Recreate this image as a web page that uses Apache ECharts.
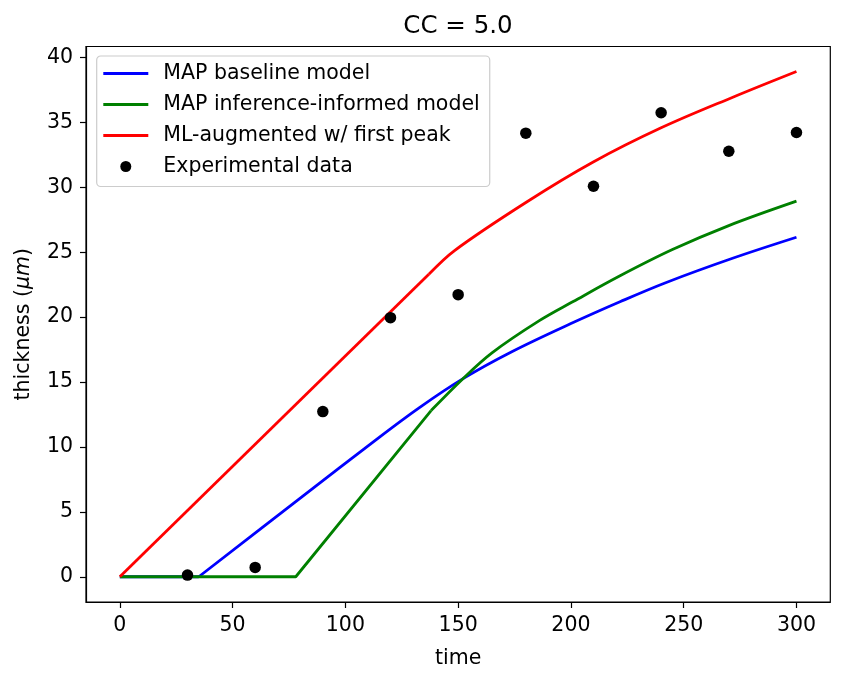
<!DOCTYPE html>
<html>
<head>
<meta charset="utf-8">
<script src="https://cdn.jsdelivr.net/npm/echarts@6/dist/echarts.min.js"></script>
<style>
html,body{margin:0;padding:0;background:#fff;}
#chart{width:845px;height:679px;}
</style>
</head>
<body>
<div id="chart"></div>
<script>
// ---- data ----
// MAP baseline model: flat part, then curved part
const baselineFlatT = [0, 35];
const baselineFlatV = [0, 0];
const baselineCurveT = [35, 80, 115, 133, 152, 174, 200, 222, 242, 272, 300];
const baselineCurveV = [0, 6.05, 10.74, 13.05, 15.24, 17.35, 19.5, 21.2, 22.65, 24.55, 26.15];

// MAP inference-informed model: flat, straight ramp, then curved part
const informedLinT = [0, 78, 138];
const informedLinV = [0, 0, 12.8];
const informedCurveT = [138, 152, 165, 186, 201, 222, 245, 270, 300];
const informedCurveV = [12.8, 15.24, 17.25, 19.73, 21.2, 23.2, 25.2, 27.05, 28.93];

// ML-augmented w/ first peak: straight ramp, then curved part
const mlLinT = [0, 137];
const mlLinV = [0, 23.3];
const mlCurveT = [137, 148.4, 180.2, 209.7, 240, 271.8, 300];
const mlCurveV = [23.3, 25.13, 28.85, 31.93, 34.58, 36.94, 38.92];

const expT = [30, 60, 90, 120, 150, 180, 210, 240, 270, 300];
const expV = [0.13, 0.72, 12.72, 19.96, 21.73, 34.17, 30.08, 35.74, 32.78, 34.22];

const xTicks = [0, 50, 100, 150, 200, 250, 300];
const yTicks = [0, 5, 10, 15, 20, 25, 30, 35, 40];

const names = ['MAP baseline model', 'MAP inference-informed model', 'ML-augmented w/ first peak', 'Experimental data'];
const colors = ['#0000ff', '#008000', '#ff0000', '#000000'];

function pairs(t, v) { return t.map((x, i) => [x, v[i]]); }

const FONT = 'DejaVu Sans';
const FS = 20.5;
const chart = echarts.init(document.getElementById('chart'), null, {renderer: 'canvas'});

const axisCommon = {
  axisLine: {show: true, onZero: false, lineStyle: {color: '#000', width: 1.2}},
  axisTick: {show: true, inside: false, length: 6, lineStyle: {color: '#000', width: 1.2}},
  splitLine: {show: false},
  axisLabel: {color: '#000', fontFamily: FONT, fontSize: FS}
};

const LW = 2.8;
const lineIcon = 'path://M0,0 H45 V2.8 H0 Z';

function lineSeries(idx, t, v, smooth) {
  return {
    name: names[idx], type: 'line', data: pairs(t, v), symbol: 'none', showSymbol: false,
    smooth: smooth ? 0.35 : false,
    lineStyle: {color: colors[idx], width: LW}, itemStyle: {color: colors[idx]},
    z: 2 + idx
  };
}

chart.setOption({
  animation: false,
  backgroundColor: '#fff',
  title: {
    text: 'CC = 5.0',
    left: 458, top: 14, textAlign: 'center', padding: 0,
    textStyle: {fontFamily: FONT, fontSize: 24.5, fontWeight: 'normal', color: '#000'}
  },
  grid: {
    left: 86, top: 46.5, right: 14.7, bottom: 77,
    show: true, borderColor: '#000', borderWidth: 1.2, backgroundColor: 'transparent',
    containLabel: false, outerBoundsMode: 'none'
  },
  legend: {
    orient: 'vertical',
    left: 96.7, top: 56,
    data: names.map((n, i) => i === 3 ? {name: n, icon: 'circle'} : {name: n, icon: lineIcon}),
    itemWidth: 45, itemHeight: 11, itemGap: 10,
    padding: [7, 10, 9.5, 6.6],
    backgroundColor: 'rgba(255,255,255,0.8)',
    borderColor: '#cccccc', borderWidth: 1.2, borderRadius: 4,
    textStyle: {fontFamily: FONT, fontSize: FS, color: '#000', lineHeight: FS, padding: [0, 0, 0, 10]}
  },
  xAxis: Object.assign({}, axisCommon, {
    type: 'value', min: -15, max: 315,
    name: 'time', nameLocation: 'middle', nameGap: 46,
    nameTextStyle: {fontFamily: FONT, fontSize: FS, color: '#000'},
    axisTick: Object.assign({}, axisCommon.axisTick, {customValues: xTicks}),
    axisLabel: Object.assign({}, axisCommon.axisLabel, {customValues: xTicks, margin: 13})
  }),
  yAxis: Object.assign({}, axisCommon, {
    type: 'value', min: -1.945, max: 40.845,
    name: '{a|thickness (}{b|μm}{a|)}', nameLocation: 'middle', nameGap: 52, nameRotate: 90,
    nameTextStyle: {
      fontFamily: FONT, fontSize: FS, color: '#000',
      rich: {
        a: {fontFamily: FONT, fontSize: FS, color: '#000'},
        b: {fontFamily: FONT, fontSize: FS, color: '#000', fontStyle: 'italic'}
      }
    },
    axisTick: Object.assign({}, axisCommon.axisTick, {customValues: yTicks}),
    axisLabel: Object.assign({}, axisCommon.axisLabel, {customValues: yTicks, margin: 13})
  }),
  series: [
    lineSeries(0, baselineFlatT, baselineFlatV, false),
    lineSeries(0, baselineCurveT, baselineCurveV, true),
    lineSeries(1, informedLinT, informedLinV, false),
    lineSeries(1, informedCurveT, informedCurveV, true),
    lineSeries(2, mlLinT, mlLinV, false),
    lineSeries(2, mlCurveT, mlCurveV, true),
    {name: names[3], type: 'scatter', data: pairs(expT, expV), symbol: 'circle', symbolSize: 11.5,
     itemStyle: {color: '#000', opacity: 1}, z: 10}
  ]
});
</script>
</body>
</html>
